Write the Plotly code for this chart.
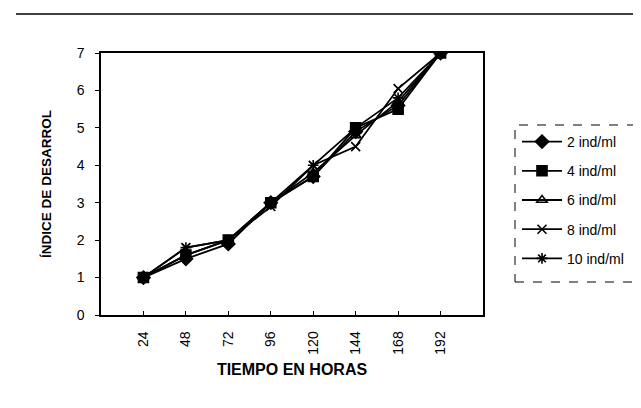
import plotly.graph_objects as go

hours = [24, 48, 72, 96, 120, 144, 168, 192]
series_names = ["2 ind/ml", "4 ind/ml", "6 ind/ml", "8 ind/ml", "10 ind/ml"]
s2 = [1, 1.5, 1.9, 3.0, 3.7, 4.9, 5.6, 7]
s4 = [1, 1.6, 2.0, 3.0, 3.7, 5.0, 5.5, 7]
s6 = [1, 1.6, 2.0, 3.0, 3.8, 4.8, 5.7, 7]
s8 = [1, 1.8, 2.0, 2.9, 4.0, 4.5, 6.05, 7]
s10 = [1, 1.8, 2.0, 3.0, 4.0, 5.0, 5.8, 7]
y_ticks = [0, 1, 2, 3, 4, 5, 6, 7]

series = [s2, s4, s6, s8, s10]
symbols = ["diamond", "square", "triangle-up-open", "x-thin-open", "asterisk-open"]
sizes = [10, 10, 9, 9, 9]

fig = go.Figure()
for name, vals, sym, sz in zip(series_names, series, symbols, sizes):
    fig.add_trace(go.Scatter(
        x=hours, y=vals, name=name, mode="lines+markers",
        legendgroup=name,
        line=dict(color="black", width=1.8),
        marker=dict(symbol=sym, size=sz, color="black",
                    line=dict(color="black", width=1.6)),
    ))

L, R, T, B = 93, 166, 45, 101
W, H = 641, 408
pw = W - L - R
ph = H - T - B

def px_x(x):
    return (x - L) / pw

def px_y(y):
    return (H - B - y) / ph

fig.update_layout(
    width=W, height=H,
    margin=dict(l=L, r=R, t=T, b=B),
    paper_bgcolor="white", plot_bgcolor="white",
    font=dict(family="Liberation Sans, Arial, sans-serif", color="black", size=13),
    showlegend=True,
    legend=dict(
        x=px_x(509), y=px_y(118),
        xanchor="left", yanchor="top",
        font=dict(size=14, color="black"),
        bgcolor="rgba(0,0,0,0)", borderwidth=0,
        tracegroupgap=8, itemwidth=40,
    ),
    xaxis=dict(
        range=[0, 216], tickvals=hours, ticktext=[str(h) for h in hours],
        tickangle=-90, showgrid=False, zeroline=False,
        showline=True, linecolor="black", linewidth=1.5, mirror=True,
        ticks="inside", ticklen=4, tickcolor="black",
        ticklabelstandoff=9,
        tickfont=dict(size=14),
        title=dict(text="<b>TIEMPO EN HORAS</b>", font=dict(size=16), standoff=10),
    ),
    yaxis=dict(
        range=[0, 7], tickvals=y_ticks, showgrid=False, zeroline=False,
        showline=True, linecolor="black", linewidth=1.5, mirror=True,
        ticks="outside", ticklen=4, tickcolor="black",
        ticklabelstandoff=8,
        tickfont=dict(size=14),
        title=dict(text="<b>ÍNDICE DE DESARROL</b>", font=dict(size=13.5), standoff=22),
    ),
)

# dashed legend box
fig.add_shape(type="rect", xref="paper", yref="paper",
              x0=px_x(507), x1=px_x(633),
              y0=px_y(274), y1=px_y(117),
              line=dict(color="black", width=1, dash="dash"))
# scan line at top of page
fig.add_shape(type="line", xref="paper", yref="paper",
              x0=px_x(8), x1=px_x(641),
              y0=px_y(6), y1=px_y(6),
              line=dict(color="black", width=1.5))

fig.write_html("out.html")
